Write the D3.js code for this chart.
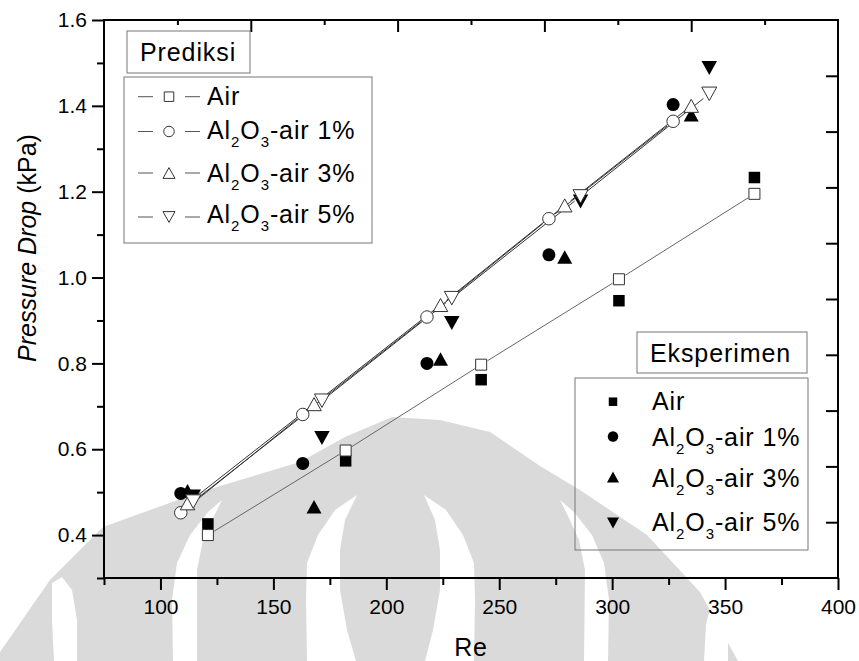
<!DOCTYPE html>
<html>
<head>
<meta charset="utf-8">
<script src="https://cdn.jsdelivr.net/npm/d3@7"></script>
<style>
  body { margin: 0; background: #fff; }
  svg { display: block; }
  text { font-family: "Liberation Sans", Arial, sans-serif; fill: #000; }
</style>
</head>
<body>
<svg id="chart" width="859" height="661"></svg>
<script>
// Reynolds numbers for each fluid
const reAir = [121, 182, 242, 303, 363];
const re1 = [109, 163, 218, 272, 327];
const re3 = [112, 168, 224, 279, 335];
const re5 = [114.5, 171.5, 229, 286, 343];

// Predicted pressure drop (kPa)
const predAir = [0.400, 0.597, 0.797, 0.996, 1.195];
const pred1 = [0.452, 0.681, 0.908, 1.137, 1.364];
const pred3 = [0.474, 0.705, 0.936, 1.168, 1.400];
const pred5 = [0.478, 0.713, 0.952, 1.189, 1.428];

// Measured pressure drop (kPa)
const expAir = [0.426, 0.573, 0.762, 0.946, 1.233];
const exp1 = [0.497, 0.567, 0.800, 1.053, 1.403];
const exp3 = [0.503, 0.466, 0.810, 1.048, 1.379];
const exp5 = [0.490, 0.626, 0.894, 1.177, 1.488];

// Axis ticks
const xTicks = [100, 150, 200, 250, 300, 350, 400];
const xMinor = [75, 125, 175, 225, 275, 325, 375];
const yTicks = [0.4, 0.6, 0.8, 1.0, 1.2, 1.4, 1.6];
const yMinor = [0.3, 0.5, 0.7, 0.9, 1.1, 1.3, 1.5];

// Legend labels: [main, sub, main, sub, rest]
const seriesLabels = [
  ["Air"],
  ["Al", "2", "O", "3", "-air 1%"],
  ["Al", "2", "O", "3", "-air 3%"],
  ["Al", "2", "O", "3", "-air 5%"]
];
const markerKinds = ["square", "circle", "up", "down"];

const svg = d3.select("#chart");
const plotL = 104, plotR = 838, plotT = 20, plotB = 578;

const x = d3.scaleLinear().domain([75, 400]).range([plotL, plotR]);
const y = d3.scaleLinear().domain([0.3, 1.6]).range([plotB, plotT]);

// ---------- faint emblem in the background ----------
const wm = svg.append("g").attr("fill", "#dadada").attr("stroke", "none");
const emblemOuter = [[0,661],[0,652],[50,580],[103,527],[200,492],[300,462],[345,437],[392,417],
  [440,420],[490,432],[540,466],[580,490],[647,535],[700,592],[738,661]];
const emblemGaps = [
  [[52,583],[62,577],[72,590],[77,620],[77,661],[54,661],[52,620]],
  [[173,661],[172,600],[177,563],[190,535],[208,512],[222,500],[214,516],[203,540],[197,570],[197,661]],
  [[307,661],[306,600],[307,563],[318,535],[335,510],[357,495],[345,520],[340,550],[340,590],[347,630],[356,661]],
  [[474,661],[475,600],[474,563],[463,535],[446,510],[424,495],[435,520],[440,550],[440,590],[433,630],[425,661]],
  [[608,661],[609,600],[604,563],[592,535],[574,512],[560,500],[568,516],[579,540],[585,570],[584,661]],
  [[704,661],[706,625],[712,600],[722,592],[728,620],[728,661]]
];
const closedLine = d3.line().curve(d3.curveLinearClosed);
wm.append("path").attr("d", closedLine(emblemOuter));
emblemGaps.forEach(g => wm.append("path").attr("fill", "#fff").attr("d", closedLine(g)));

// ---------- axes ----------
const axisG = svg.append("g");
function styleAxis(g) {
  g.select(".domain").remove();
  g.selectAll(".tick line").attr("stroke", "#000").attr("stroke-width", 2);
  g.selectAll("text").style("font-family", '"Liberation Sans", Arial, sans-serif')
    .style("font-size", "21px").attr("fill", "#000");
}
axisG.append("g").attr("transform", `translate(0,${plotB})`)
  .call(d3.axisBottom(x).tickValues(xTicks).tickSize(12).tickPadding(9).tickFormat(d3.format("d")))
  .call(styleAxis);
axisG.append("g").attr("transform", `translate(0,${plotB})`)
  .call(d3.axisBottom(x).tickValues(xMinor).tickSize(7).tickFormat(""))
  .call(styleAxis);
axisG.append("g").attr("transform", `translate(${plotL},0)`)
  .call(d3.axisLeft(y).tickValues(yTicks).tickSize(12).tickPadding(5).tickFormat(d3.format(".1f")))
  .call(styleAxis);
axisG.append("g").attr("transform", `translate(${plotL},0)`)
  .call(d3.axisLeft(y).tickValues(yMinor).tickSize(7).tickFormat(""))
  .call(styleAxis);

// top and right axes use ten equal divisions, ticks pointing inward
const xTop = d3.scaleLinear().domain([0, 10]).range([plotL, plotR]);
const yRight = d3.scaleLinear().domain([0, 10]).range([plotB, plotT]);
axisG.append("g").attr("transform", `translate(0,${plotT})`)
  .call(d3.axisTop(xTop).tickValues([2, 4, 6, 8]).tickSize(-12).tickFormat(""))
  .call(styleAxis);
axisG.append("g").attr("transform", `translate(0,${plotT})`)
  .call(d3.axisTop(xTop).tickValues([1, 3, 5, 7, 9]).tickSize(-5).tickFormat(""))
  .call(styleAxis);
axisG.append("g").attr("transform", `translate(${plotR},0)`)
  .call(d3.axisRight(yRight).tickValues([1, 2, 3, 4, 5, 6, 7, 8, 9]).tickSize(-12).tickFormat(""))
  .call(styleAxis);

svg.append("rect").attr("x", plotL).attr("y", plotT)
  .attr("width", plotR - plotL).attr("height", plotB - plotT)
  .attr("fill", "none").attr("stroke", "#000").attr("stroke-width", 2);

// axis titles
svg.append("text").attr("x", 471).attr("y", 656).attr("text-anchor", "middle")
  .style("font-size", "25px").style("letter-spacing", "0.8px").text("Re");
const yt = svg.append("text").attr("transform", "translate(36,248) rotate(-90)")
  .attr("text-anchor", "middle").style("font-size", "25px");
yt.append("tspan").style("font-style", "italic").text("Pressure Drop");
yt.append("tspan").text(" (kPa)");

// ---------- markers ----------
function markerPath(kind, s) {
  const h = s / 2;
  if (kind === "square") return `M${-h},${-h}H${h}V${h}H${-h}Z`;
  if (kind === "circle") return `M${h},0A${h},${h} 0 1,1 ${-h},0A${h},${h} 0 1,1 ${h},0Z`;
  const th = s * 0.9 / 2;
  if (kind === "up") return `M0,${-th}L${h},${th}L${-h},${th}Z`;
  return `M0,${th}L${h},${-th}L${-h},${-th}Z`;
}
const bigSize = { square: 11, circle: 12.5, up: 14.5, down: 15 };

const expSeries = [[reAir, expAir], [re1, exp1], [re3, exp3], [re5, exp5]];
const predSeries = [[reAir, predAir], [re1, pred1], [re3, pred3], [re5, pred5]];

// measured values: solid markers
const expG = svg.append("g");
expSeries.forEach(([re, v], i) => {
  const kind = markerKinds[i];
  expG.selectAll(null).data(d3.zip(re, v)).join("path")
    .attr("transform", d => `translate(${x(d[0])},${y(d[1])})`)
    .attr("d", markerPath(kind, bigSize[kind] + 0.5))
    .attr("fill", "#000");
});

// predicted values: connecting lines with a gap around each marker
const gap = 7.5;
const predG = svg.append("g");
predSeries.forEach(([re, v], i) => {
  const pts = d3.zip(re, v).map(d => [x(d[0]), y(d[1])]);
  const segs = d3.pairs(pts).map(([a, b]) => {
    const dx = b[0] - a[0], dy = b[1] - a[1], L = Math.hypot(dx, dy);
    const ux = dx / L, uy = dy / L;
    return [[a[0] + ux * gap, a[1] + uy * gap], [b[0] - ux * gap, b[1] - uy * gap]];
  });
  predG.selectAll(null).data(segs).join("line")
    .attr("x1", s => s[0][0]).attr("y1", s => s[0][1])
    .attr("x2", s => s[1][0]).attr("y2", s => s[1][1])
    .attr("stroke", i === 0 ? "#666" : "#333").attr("stroke-width", 1);
});
predSeries.forEach(([re, v], i) => {
  const kind = markerKinds[i];
  predG.selectAll(null).data(d3.zip(re, v)).join("path")
    .attr("transform", d => `translate(${x(d[0])},${y(d[1])})`)
    .attr("d", markerPath(kind, bigSize[kind]))
    .attr("fill", "#fff").attr("stroke", "#333").attr("stroke-width", 1);
});

// ---------- legends ----------
const legendFont = 25;
function labelText(g, parts, tx, ty) {
  const t = g.append("text").attr("x", tx).attr("y", ty)
    .style("font-size", legendFont + "px").style("letter-spacing", "0.9px");
  const sub = Math.round(legendFont * 0.6), shift = Math.round(legendFont * 0.3);
  parts.forEach((p, k) => {
    if (k % 2 === 1) t.append("tspan").attr("dy", shift).style("font-size", sub + "px").text(p);
    else t.append("tspan").attr("dy", k === 0 ? 0 : -shift).text(p);
  });
}
const boxStroke = "#777";

// predicted legend
const lg1 = svg.append("g");
lg1.append("rect").attr("x", 127).attr("y", 31).attr("width", 123).attr("height", 42)
  .attr("fill", "none").attr("stroke", boxStroke);
labelText(lg1, ["Prediksi"], 140, 61);
lg1.append("rect").attr("x", 124).attr("y", 77).attr("width", 248).attr("height", 166)
  .attr("fill", "none").attr("stroke", boxStroke);
const rows1 = [96.7, 131.5, 173, 217];
const base1 = [105, 139, 182, 223];
const legSize = { square: 9.5, circle: 10.5, up: 12, down: 12 };
seriesLabels.forEach((lab, i) => {
  const cy = rows1[i];
  lg1.append("line").attr("x1", 138).attr("x2", 153).attr("y1", cy).attr("y2", cy)
    .attr("stroke", "#555");
  lg1.append("line").attr("x1", 185).attr("x2", 200).attr("y1", cy).attr("y2", cy)
    .attr("stroke", "#555");
  lg1.append("path").attr("transform", `translate(169,${cy})`)
    .attr("d", markerPath(markerKinds[i], legSize[markerKinds[i]]))
    .attr("fill", "#fff").attr("stroke", "#333");
  labelText(lg1, lab, 207, base1[i]);
});

// measured legend
const lg2 = svg.append("g");
lg2.append("rect").attr("x", 637).attr("y", 332).attr("width", 170).attr("height", 41)
  .attr("fill", "none").attr("stroke", boxStroke);
labelText(lg2, ["Eksperimen"], 650, 362);
lg2.append("rect").attr("x", 575).attr("y", 378).attr("width", 233).attr("height", 172)
  .attr("fill", "none").attr("stroke", boxStroke);
const rows2 = [401.7, 436.5, 477, 523];
const base2 = [410, 446, 487, 531];
const legSize2 = { square: 8.5, circle: 10.5, up: 12, down: 12 };
seriesLabels.forEach((lab, i) => {
  lg2.append("path").attr("transform", `translate(613,${rows2[i]})`)
    .attr("d", markerPath(markerKinds[i], legSize2[markerKinds[i]]))
    .attr("fill", "#000");
  labelText(lg2, lab, 652, base2[i]);
});
</script>
</body>
</html>
